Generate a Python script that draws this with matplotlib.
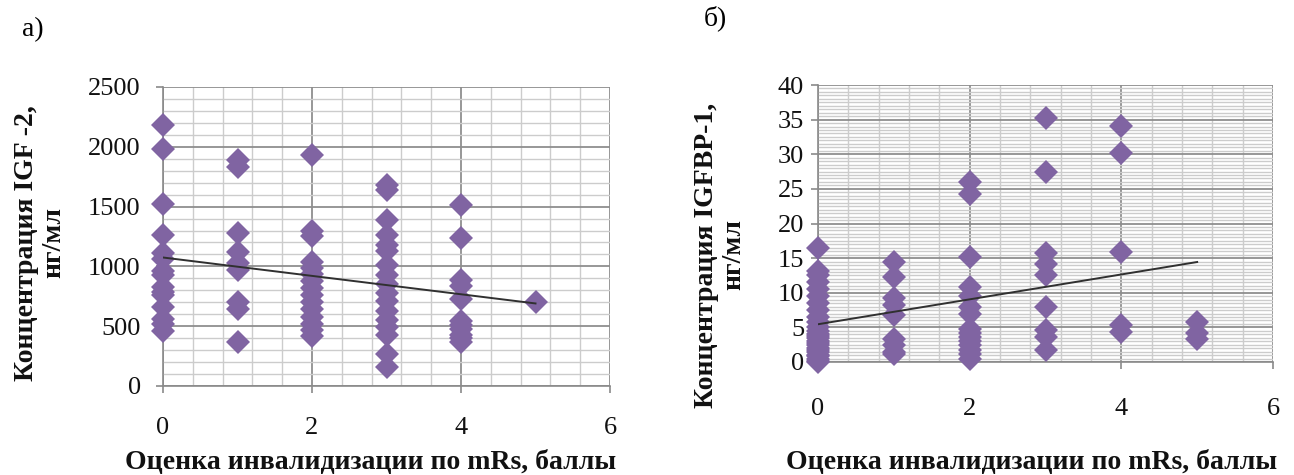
import matplotlib
matplotlib.use("Agg")
import matplotlib.pyplot as plt
from matplotlib.ticker import MultipleLocator
import numpy as np

plt.rcParams['font.family'] = ['Liberation Serif', 'DejaVu Serif']

# mRs score groups (0..5) with measured concentrations
mrs_levels = [0, 1, 2, 3, 4, 5]

igf2_by_mrs = [
    [2180, 1980, 1520, 1260, 1110, 1060, 960, 930, 830, 790, 760, 660, 560, 520, 460],
    [1890, 1830, 1280, 1120, 1030, 970, 700, 640, 370],
    [1930, 1300, 1250, 1040, 990, 940, 880, 820, 760, 700, 640, 580, 520, 470, 420],
    [1680, 1640, 1390, 1260, 1180, 1130, 1010, 930, 850, 780, 710, 630, 550, 490, 430, 270, 160],
    [1510, 1240, 890, 840, 730, 540, 510, 480, 430, 400, 370],
    [700],
]

igfbp1_by_mrs = [
    [16.5, 13.2, 12.5, 11.5, 10.5, 9.5, 8.5, 7.5, 6.5, 5.8, 5.0, 4.5, 4.0, 3.8, 3.5, 3.0,
     2.8, 2.5, 2.0, 1.8, 1.5, 1.0, 0.8, 0.5, 0.2, 0.0],
    [14.5, 12.3, 9.2, 8.2, 6.8, 3.3, 2.5, 1.5, 1.2],
    [26.0, 24.2, 15.1, 10.8, 9.5, 8.0, 7.0, 4.8, 4.2, 3.6, 3.0, 2.5, 1.8, 1.2, 0.5],
    [35.3, 27.4, 15.8, 14.2, 12.5, 7.9, 4.6, 3.6, 1.8],
    [34.1, 30.2, 15.9, 5.3, 4.3],
    [5.8, 4.2, 3.3],
]

x_label = "Оценка инвалидизации по mRs, баллы"
igf2_label = "Концентрация IGF -2,\nнг/мл"
igfbp1_label = "Концентрация IGFBP-1,\nнг/мл"

PURPLE = "#8064A2"
MAJOR_GRID = "#8f8f8f"
MINOR_GRID = "#cccccc"


def flatten(groups):
    xs, ys = [], []
    for lvl, vals in zip(mrs_levels, groups):
        xs.extend([lvl] * len(vals))
        ys.extend(vals)
    return np.array(xs, float), np.array(ys, float)


def scatter_panel(ax, groups, ymax, ymajor, yminor, xpad, ypad):
    xs, ys = flatten(groups)
    ax.set_axisbelow(True)
    ax.plot(xs, ys, linestyle="none", marker="D", markersize=12,
            color=PURPLE, markeredgewidth=0, zorder=3, clip_on=False)

    # linear trend over the data range
    k, b = np.polyfit(xs, ys, 1)
    tx = np.array([xs.min(), xs.max()])
    ax.plot(tx, k * tx + b, color="#303030", linewidth=1.4, zorder=4)

    ax.set_xlim(0, 6)
    ax.set_ylim(0, ymax)
    ax.xaxis.set_major_locator(MultipleLocator(2))
    ax.xaxis.set_minor_locator(MultipleLocator(0.4))
    ax.yaxis.set_major_locator(MultipleLocator(ymajor))
    ax.yaxis.set_minor_locator(MultipleLocator(yminor))

    ax.grid(which="minor", color=MINOR_GRID, linewidth=1.0)
    ax.grid(which="major", color=MAJOR_GRID, linewidth=1.3)

    for side in ("top", "right"):
        ax.spines[side].set_visible(False)
    for side in ("left", "bottom"):
        ax.spines[side].set_color("#8a8a8a")
        ax.spines[side].set_linewidth(1.2)

    ax.tick_params(which="major", direction="out", length=5, width=1.2,
                   color="#8a8a8a", labelsize=19, labelcolor="#111111")
    ax.tick_params(axis="x", which="major", pad=xpad)
    ax.tick_params(axis="y", which="major", pad=ypad)
    ax.tick_params(which="minor", length=0)


fig = plt.figure(figsize=(12.94, 4.75), dpi=100)

ax_a = fig.add_axes([163 / 1294, 1 - 386 / 475, 447 / 1294, 299 / 475])
scatter_panel(ax_a, igf2_by_mrs, 2500, 500, 100, xpad=17, ypad=11)

ax_b = fig.add_axes([818 / 1294, 1 - 362 / 475, 455 / 1294, 277 / 475])
scatter_panel(ax_b, igfbp1_by_mrs, 40, 5, 0.5, xpad=21, ypad=5)

bold = dict(fontsize=20, fontweight="bold", color="#111111")
fig.text(40 / 1294, 1 - 243 / 475, igf2_label, rotation=90, ha="center",
         va="center", multialignment="center", linespacing=1.1, **bold)
fig.text(720 / 1294, 1 - 255 / 475, igfbp1_label, rotation=90, ha="center",
         va="center", multialignment="center", linespacing=1.1, **bold)

fig.text(371 / 1294, 1 - 463 / 475, x_label, ha="center", va="center", **bold)
fig.text(1032 / 1294, 1 - 462 / 475, x_label, ha="center", va="center", **bold)

fig.text(33 / 1294, 1 - 30 / 475, "а)", ha="center", va="center", fontsize=20)
fig.text(715 / 1294, 1 - 18 / 475, "б)", ha="center", va="center", fontsize=20)

fig.savefig("out.png", dpi=100)
